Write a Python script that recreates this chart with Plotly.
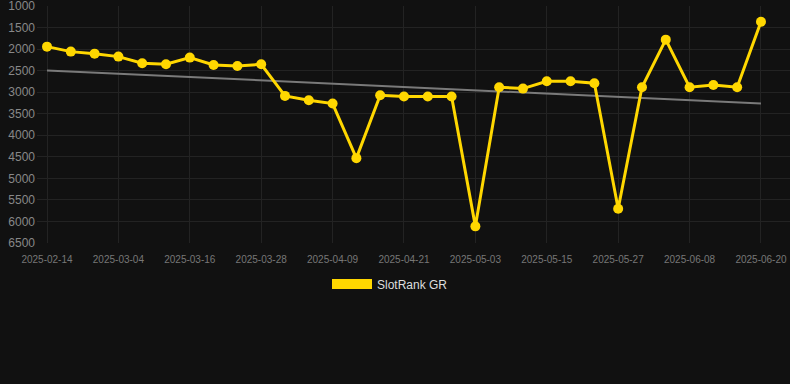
import numpy as np
import plotly.graph_objects as go

dates = ["2025-02-14", "2025-02-20", "2025-02-26", "2025-03-04", "2025-03-08",
         "2025-03-12", "2025-03-16", "2025-03-20", "2025-03-24", "2025-03-28",
         "2025-04-01", "2025-04-05", "2025-04-09", "2025-04-13", "2025-04-17",
         "2025-04-21", "2025-04-25", "2025-04-29", "2025-05-03", "2025-05-07",
         "2025-05-11", "2025-05-15", "2025-05-19", "2025-05-23", "2025-05-27",
         "2025-05-31", "2025-06-04", "2025-06-08", "2025-06-12", "2025-06-16",
         "2025-06-20"]
rank = [1942, 2058, 2105, 2174, 2329, 2352, 2197, 2367, 2390, 2352,
        3086, 3186, 3263, 4530, 3070, 3101, 3101, 3101, 6114, 2885,
        2916, 2746, 2746, 2792, 5705, 2885, 1780, 2885, 2831, 2885,
        1363]
tick_labels = ["2025-02-14", "2025-03-04", "2025-03-16", "2025-03-28", "2025-04-09",
               "2025-04-21", "2025-05-03", "2025-05-15", "2025-05-27", "2025-06-08",
               "2025-06-20"]
y_ticks = [1000, 1500, 2000, 2500, 3000, 3500, 4000, 4500, 5000, 5500, 6000, 6500]
series_name = "SlotRank GR"

# linear trend through the series
idx = np.arange(len(rank))
slope, intercept = np.polyfit(idx, rank, 1)
trend = [float(intercept + slope * i) for i in (idx[0], idx[-1])]
trend_x = [dates[0], dates[-1]]

GOLD = "#FFD700"
BG = "#111111"
GRID = "#232323"

fig = go.Figure()
fig.add_trace(go.Scatter(
    x=trend_x, y=trend, mode="lines",
    line=dict(color="#7a7a7a", width=2),
    showlegend=False, hoverinfo="skip",
))
fig.add_trace(go.Scatter(
    x=dates, y=rank, mode="lines+markers",
    line=dict(color=GOLD, width=3),
    marker=dict(color=GOLD, size=10),
    showlegend=False, name=series_name,
))
fig.add_trace(go.Scatter(
    x=[None], y=[None], mode="lines",
    line=dict(color=GOLD, width=11),
    name=series_name, showlegend=True,
))

fig.update_layout(
    width=790, height=384,
    paper_bgcolor=BG, plot_bgcolor=BG,
    margin=dict(l=37, r=0, t=6, b=141),
    font=dict(family="Liberation Sans, Arial, sans-serif"),
    hovermode=False,
    legend=dict(
        orientation="h", xref="container", yref="container",
        x=390 / 790, xanchor="center", y=1 - 284 / 384, yanchor="middle",
        font=dict(size=12, color="#dddddd"),
        itemwidth=40, bgcolor="rgba(0,0,0,0)",
    ),
    xaxis=dict(
        type="category", categoryorder="array", categoryarray=dates,
        range=[-0.42, len(dates) - 1 + 1.22],
        tickmode="array", tickvals=tick_labels, ticktext=tick_labels,
        tickfont=dict(size=10, color="#777777"),
        showgrid=True, gridcolor=GRID, gridwidth=1,
        zeroline=False, showline=False, ticks="",
        ticklabelstandoff=9, ticklabeloverflow="allow",
    ),
    yaxis=dict(
        autorange=False, range=[6500, 999],
        tickmode="array", tickvals=y_ticks,
        tickfont=dict(size=12, color="#888888"),
        showgrid=True, gridcolor=GRID, gridwidth=1,
        zeroline=False, showline=False, ticks="",
        ticklabelstandoff=1, ticklabeloverflow="allow",
    ),
)

fig.write_html(
    "out.html",
    config={"displayModeBar": False, "staticPlot": True},
    post_script="document.body.style.margin='0';document.body.style.background='#111111';",
)
